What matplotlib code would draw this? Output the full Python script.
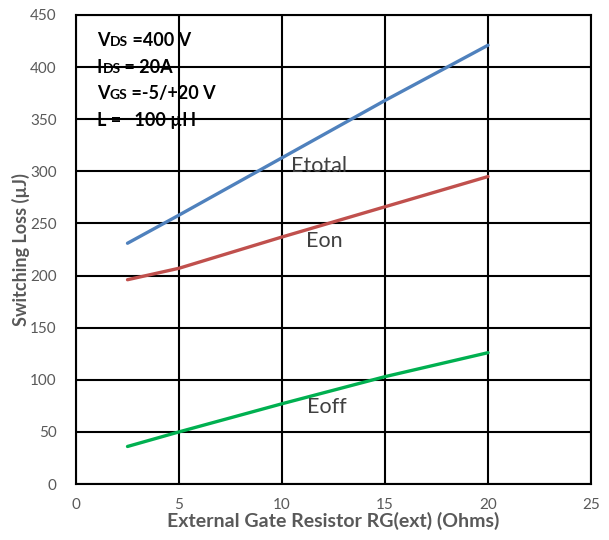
import matplotlib
matplotlib.use("Agg")
import matplotlib.pyplot as plt
from matplotlib.offsetbox import TextArea, HPacker, VPacker, AnchoredOffsetbox

plt.rcParams['font.family'] = ['Lato', 'DejaVu Sans']

# data
rg = [2.5, 5, 10, 15, 20]
e_total = [231, 258, 313, 368, 421]
e_on = [196, 207, 237, 266, 295]
e_off = [36, 50, 77, 103, 126]

x_ticks = [0, 5, 10, 15, 20, 25]
y_ticks = [0, 50, 100, 150, 200, 250, 300, 350, 400, 450]

gray = "#595959"

fig = plt.figure(figsize=(6.09, 5.4), dpi=100)
ax = fig.add_axes([76 / 609, 1 - 484 / 540, (591 - 76) / 609, (484 - 15) / 540])

ax.plot(rg, e_total, color="#4F81BD", lw=2.4, solid_capstyle="round", zorder=3)
ax.plot(rg, e_on, color="#C0504D", lw=2.4, solid_capstyle="round", zorder=3)
ax.plot(rg, e_off, color="#00B050", lw=2.4, solid_capstyle="round", zorder=3)

ax.set_xlim(0, 25)
ax.set_ylim(0, 450)
ax.set_xticks(x_ticks)
ax.set_yticks(y_ticks)
ax.grid(True, color="black", lw=1.5, zorder=1)
ax.set_axisbelow(True)
for s in ax.spines.values():
    s.set_color("black")
    s.set_linewidth(1.5)
ax.tick_params(colors=gray, labelsize=11, length=0)
ax.tick_params(axis="x", pad=10)
ax.tick_params(axis="y", pad=14)
for lab in ax.get_xticklabels() + ax.get_yticklabels():
    lab.set_color(gray)

ax.set_xlabel("External Gate Resistor RG(ext) (Ohms)", fontsize=14,
              fontweight="bold", color=gray, labelpad=0)
ax.set_ylabel("Switching Loss (µJ)", fontsize=13, fontweight="bold",
              color=gray, labelpad=0)

# curve labels
lab_kw = dict(fontsize=15.5, color="#404040")
ax.text(10.45, 299, "Etotal", **lab_kw)
ax.text(11.15, 227, "Eon", **lab_kw)
ax.text(11.2, 68, "Eoff", **lab_kw)


# conditions box, small-caps style subscripts
def row(parts):
    boxes = []
    for txt, size in parts:
        boxes.append(TextArea(txt, textprops=dict(fontsize=size, fontweight="bold",
                                                  color="black")))
    return HPacker(children=boxes, align="baseline", pad=0, sep=0)


big, small = 13, 10
rows = [
    row([("V", big), ("DS", small), (" =400 V", big)]),
    row([("I", big), ("DS", small), (" = 20A", big)]),
    row([("V", big), ("GS", small), (" =-5/+20 V", big)]),
    row([("L =   100 µH", big)]),
]
box = VPacker(children=rows, align="left", pad=0, sep=7)
anch = AnchoredOffsetbox(loc="upper left", child=box, frameon=False,
                         bbox_to_anchor=(97 / 609, 1 - 32 / 540),
                         bbox_transform=fig.transFigure, borderpad=0, pad=0)
ax.add_artist(anch)

fig.savefig("out.png", dpi=100)
